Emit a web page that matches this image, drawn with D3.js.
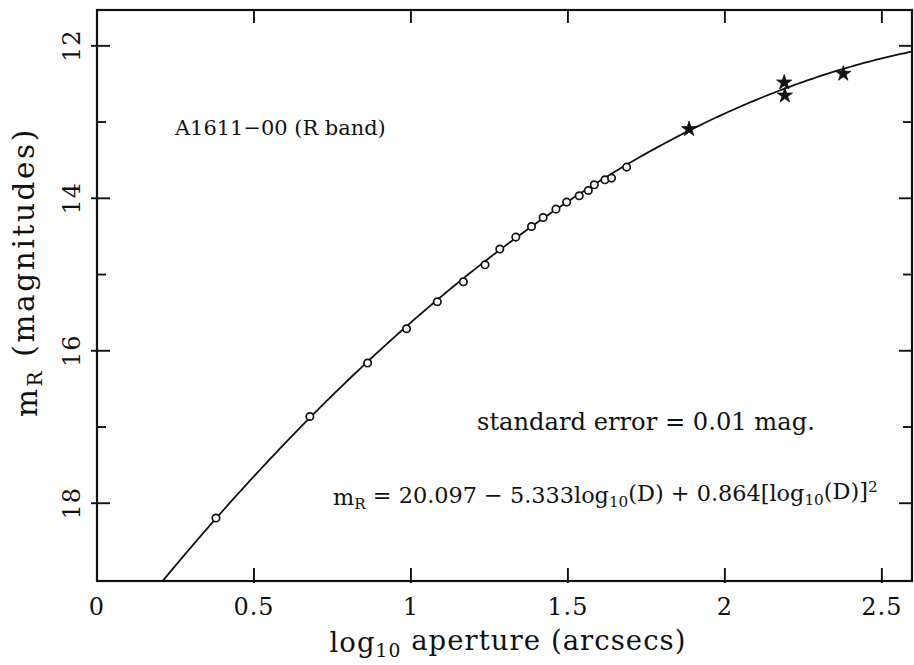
<!DOCTYPE html>
<html>
<head>
<meta charset="utf-8">
<script src="https://cdn.jsdelivr.net/npm/d3@7"></script>
<style>
  html, body { margin: 0; padding: 0; background: #fff; }
  svg { display: block; }
  text { font-family: "DejaVu Serif", "Liberation Serif", serif; fill: #111; }
</style>
</head>
<body>
<svg id="chart" width="914" height="665"></svg>
<script>
// Aperture photometry of A1611-00, R band
// Growth-curve points (open circles)
const circleLogD = [0.379, 0.678, 0.862, 0.986, 1.084, 1.167, 1.236, 1.283, 1.334, 1.384,
                    1.421, 1.462, 1.496, 1.536, 1.565, 1.584, 1.618, 1.639, 1.687];
const circleMag  = [18.194, 16.862, 16.161, 15.711, 15.357, 15.095, 14.872, 14.666, 14.509, 14.370,
                    14.252, 14.142, 14.050, 13.967, 13.898, 13.823, 13.757, 13.735, 13.591];
// Large-aperture points (stars)
const starLogD = [1.886, 2.189, 2.191, 2.377];
const starMag  = [13.092, 12.481, 12.652, 12.367];
// Quadratic fit: m = c0 + c1*x + c2*x^2
const fitCoef = [20.097, -5.333, 0.864];
// Axes
const xTickValues = [0, 0.5, 1, 1.5, 2, 2.5];
const xTickLabels = ["0", "0.5", "1", "1.5", "2", "2.5"];
const yMajorTicks = [12, 14, 16, 18];
const yMinorTicks = [13, 15, 17];
const xDomain = [0, 2.596];
const yDomain = [11.53, 19.02];

const svg = d3.select("#chart");
const plotL = 97, plotR = 912, plotT = 10, plotB = 581;
const ink = "#111";

const x = d3.scaleLinear().domain(xDomain).range([plotL, plotR]);
const y = d3.scaleLinear().domain(yDomain).range([plotT, plotB]);

// Scale a text element's font size so that its run spans the given width
function fitWidth(sel, width) {
  const fs = parseFloat(sel.attr("font-size"));
  const w = sel.node().getBBox().width;
  sel.attr("font-size", (fs * width / w).toFixed(2));
}
// Open up letter spacing so that a text run spans the given length
function fitSpacing(sel, length) {
  const n = sel.text().length;
  const w = sel.node().getComputedTextLength();
  sel.attr("letter-spacing", Math.max(0, (length - w) / n).toFixed(2));
}

svg.append("defs").append("clipPath").attr("id", "plotClip")
  .append("rect").attr("x", plotL).attr("y", plotT)
  .attr("width", plotR - plotL).attr("height", plotB - plotT);

// Fit curve
const fitX = d3.range(0.15, 2.62, 0.01);
const fit = v => fitCoef[0] + fitCoef[1] * v + fitCoef[2] * v * v;
svg.append("path")
  .attr("clip-path", "url(#plotClip)")
  .attr("d", d3.line().x(d => x(d)).y(d => y(fit(d)))(fitX))
  .attr("fill", "none").attr("stroke", ink).attr("stroke-width", 1.8);

// Circles
svg.append("g").selectAll("circle")
  .data(circleLogD.map((d, i) => [d, circleMag[i]]))
  .join("circle")
  .attr("cx", d => x(d[0])).attr("cy", d => y(d[1])).attr("r", 3.7)
  .attr("fill", "#fff").attr("stroke", ink).attr("stroke-width", 1.7);

// Stars
const starSym = d3.symbol().type(d3.symbolStar).size(72);
svg.append("g").selectAll("path")
  .data(starLogD.map((d, i) => [d, starMag[i]]))
  .join("path")
  .attr("transform", d => `translate(${x(d[0])},${y(d[1])})`)
  .attr("d", starSym())
  .attr("fill", ink).attr("stroke", ink).attr("stroke-width", 0.8);

// Frame
svg.append("rect")
  .attr("x", plotL).attr("y", plotT).attr("width", plotR - plotL).attr("height", plotB - plotT)
  .attr("fill", "none").attr("stroke", ink).attr("stroke-width", 2.2);

// Ticks on all four sides, drawn inward
const ticks = svg.append("g").attr("stroke", ink).attr("stroke-width", 1.9);
xTickValues.filter(v => v > 0).forEach(v => {
  ticks.append("line").attr("x1", x(v)).attr("x2", x(v)).attr("y1", plotB + 2).attr("y2", plotB - 13);
  ticks.append("line").attr("x1", x(v)).attr("x2", x(v)).attr("y1", plotT).attr("y2", plotT + 13);
});
yMajorTicks.forEach(v => {
  ticks.append("line").attr("x1", plotL - 6).attr("x2", plotL + 13).attr("y1", y(v)).attr("y2", y(v));
  ticks.append("line").attr("x1", plotR).attr("x2", plotR - 13).attr("y1", y(v)).attr("y2", y(v));
});
yMinorTicks.forEach(v => {
  ticks.append("line").attr("x1", plotL).attr("x2", plotL + 9).attr("y1", y(v)).attr("y2", y(v));
  ticks.append("line").attr("x1", plotR).attr("x2", plotR - 9).attr("y1", y(v)).attr("y2", y(v));
});

// Tick labels
svg.append("g").selectAll("text")
  .data(xTickValues)
  .join("text")
  .attr("x", d => x(d)).attr("y", 615)
  .attr("text-anchor", "middle").attr("font-size", 24).attr("letter-spacing", 1)
  .text((d, i) => xTickLabels[i]);

svg.append("g").selectAll("text")
  .data(yMajorTicks)
  .join("text")
  .attr("transform", d => `translate(80,${y(d)}) rotate(-90)`)
  .attr("text-anchor", "middle").attr("font-size", 24).attr("letter-spacing", 1)
  .text(d => d);

// Axis titles
const xt = svg.append("text").attr("x", 508).attr("y", 652)
  .attr("text-anchor", "middle").attr("font-size", 27.5);
xt.append("tspan").text("log");
xt.append("tspan").attr("dy", "0.27em").style("font-size", "0.68em").text("10");
xt.append("tspan").attr("dy", "-0.27em").text(" aperture (arcsecs)");
fitSpacing(xt, 357);

const yt = svg.append("text").attr("transform", "translate(37,272) rotate(-90)")
  .attr("text-anchor", "middle").attr("font-size", 29.5);
yt.append("tspan").text("m");
yt.append("tspan").attr("dy", "0.27em").style("font-size", "0.68em").text("R");
yt.append("tspan").attr("dy", "-0.27em").text(" (magnitudes)");
fitSpacing(yt, 290);

// Annotations
const lab = svg.append("text").attr("x", 175).attr("y", 135).attr("font-size", 20)
  .text("A1611\u221200 (R band)");
fitWidth(lab, 212);

const se = svg.append("text").attr("x", 477).attr("y", 430).attr("font-size", 20)
  .text("standard error = 0.01 mag.");
fitWidth(se, 338);

const eq = svg.append("text").attr("x", 333).attr("y", 505).attr("font-size", 20);
eq.append("tspan").text("m");
eq.append("tspan").attr("dy", "0.27em").style("font-size", "0.68em").text("R");
eq.append("tspan").attr("dy", "-0.27em").text(` = ${fitCoef[0].toFixed(3)} \u2212 ${Math.abs(fitCoef[1]).toFixed(3)}log`);
eq.append("tspan").attr("dy", "0.27em").style("font-size", "0.68em").text("10");
eq.append("tspan").attr("dy", "-0.27em").text(`(D) + ${fitCoef[2].toFixed(3)}[log`);
eq.append("tspan").attr("dy", "0.27em").style("font-size", "0.68em").text("10");
eq.append("tspan").attr("dy", "-0.27em").text("(D)]");
eq.append("tspan").attr("dy", "-0.45em").style("font-size", "0.68em").text("2");
fitWidth(eq, 545);
</script>
</body>
</html>
